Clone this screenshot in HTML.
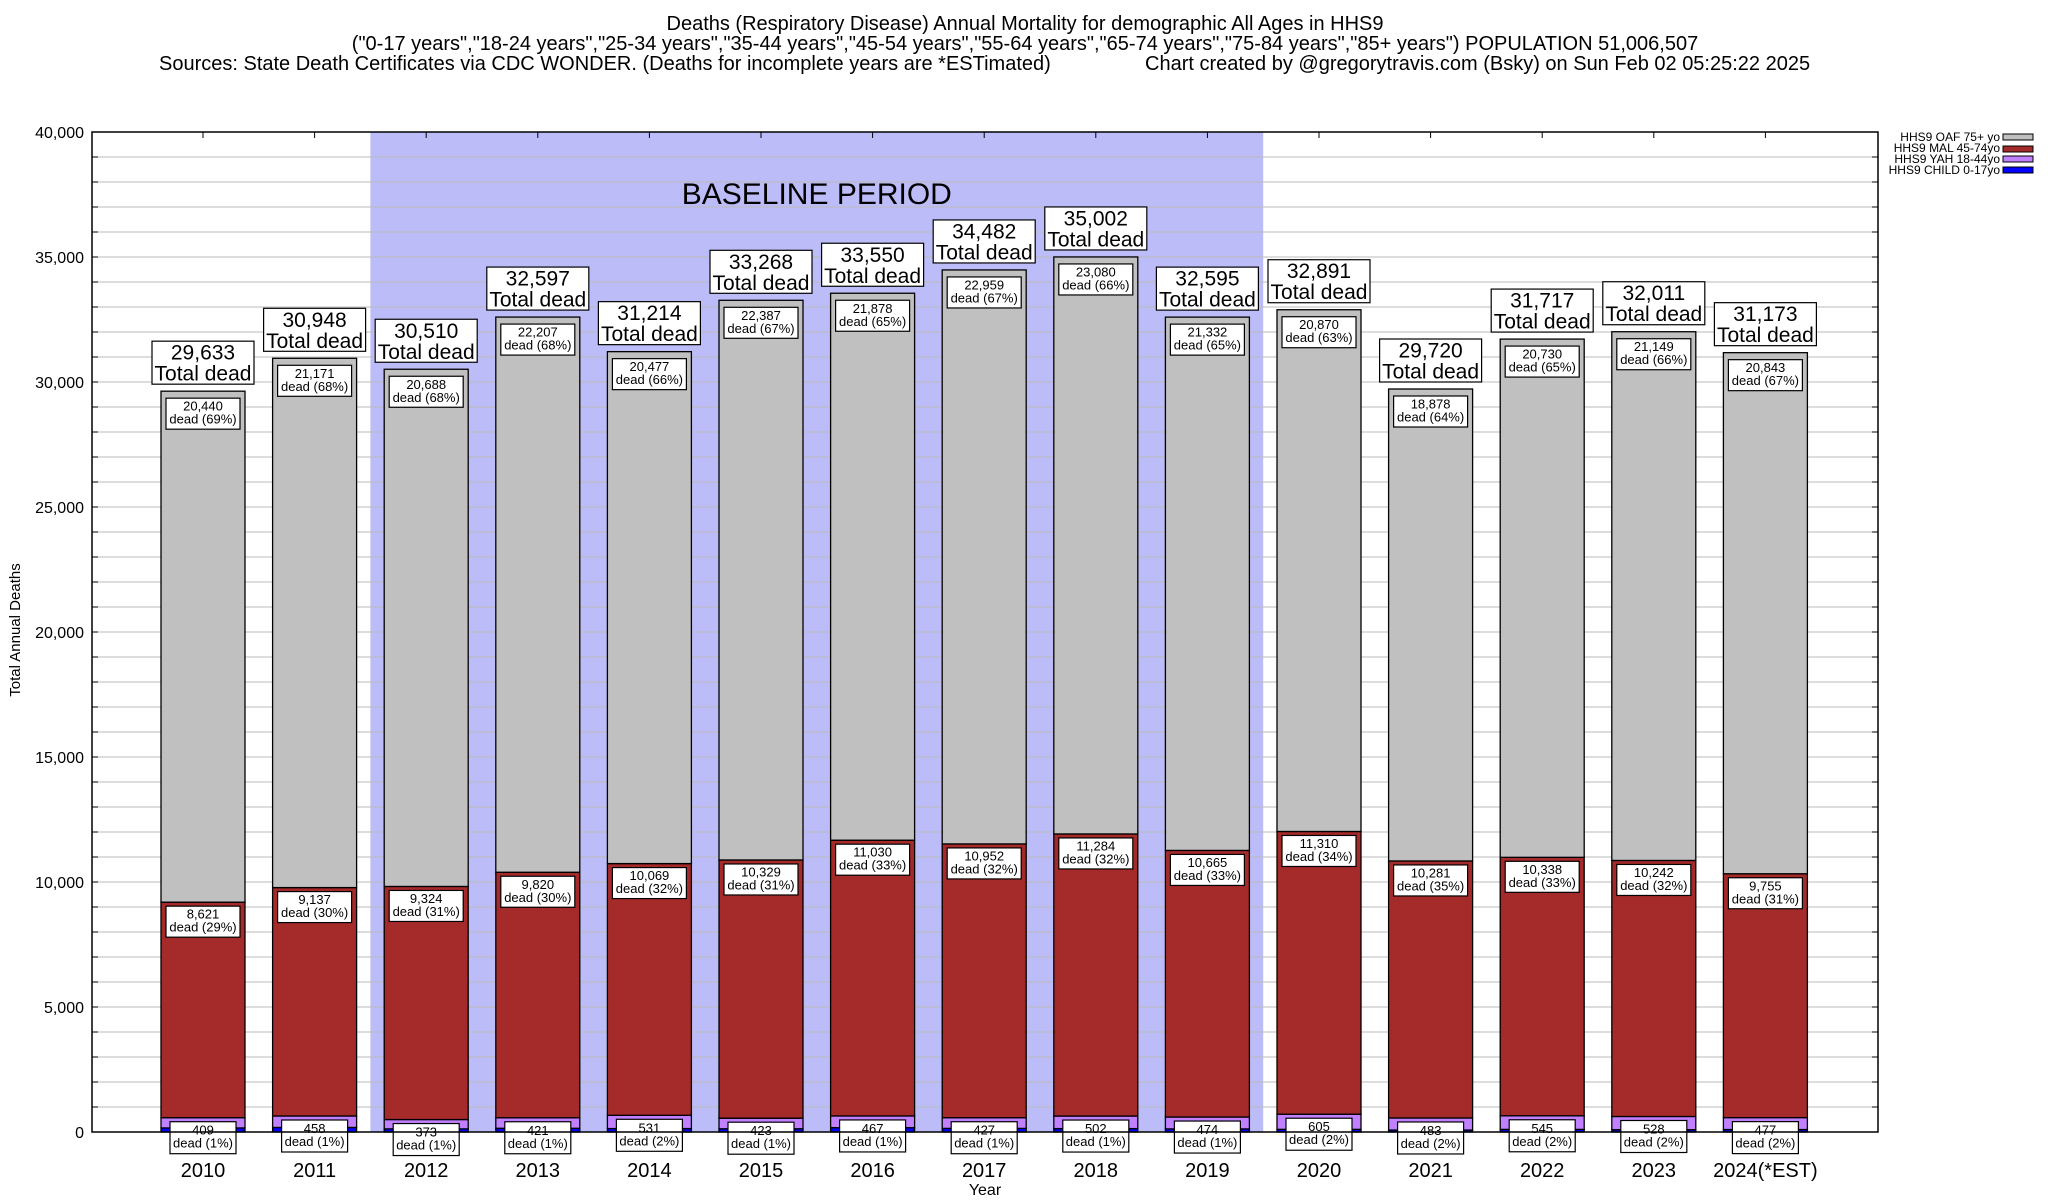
<!DOCTYPE html>
<html><head><meta charset="utf-8">
<style>
body{margin:0;background:#fff;}
svg{display:block;font-family:"Liberation Sans",sans-serif;}
</style></head>
<body>
<svg id="chart" width="2048" height="1200" viewBox="0 0 2048 1200" xmlns="http://www.w3.org/2000/svg">
<text x="1025" y="30" font-size="20" text-anchor="middle">Deaths (Respiratory Disease) Annual Mortality for demographic All Ages in HHS9</text>
<text x="1025" y="50" font-size="20" text-anchor="middle">("0-17 years","18-24 years","25-34 years","35-44 years","45-54 years","55-64 years","65-74 years","75-84 years","85+ years") POPULATION 51,006,507</text>
<text x="159" y="70" font-size="20">Sources: State Death Certificates via CDC WONDER. (Deaths for incomplete years are *ESTimated)</text>
<text x="1145" y="70" font-size="20">Chart created by @gregorytravis.com (Bsky) on Sun Feb 02 05:25:22 2025</text>
<g id="plot"></g>
<text transform="translate(20,630) rotate(-90)" font-size="15" text-anchor="middle">Total Annual Deaths</text>
<text x="985" y="1195" font-size="16" text-anchor="middle">Year</text>
<g font-size="12" text-anchor="end">
<text x="2000" y="141">HHS9 OAF 75+ yo</text>
<rect x="2003" y="134" width="30" height="6" fill="#c0c0c0" stroke="#000"/>
<text x="2000" y="152">HHS9 MAL 45-74yo</text>
<rect x="2003" y="146" width="30" height="6" fill="#a52a2a" stroke="#000"/>
<text x="2000" y="163">HHS9 YAH 18-44yo</text>
<rect x="2003" y="156" width="30" height="6" fill="#c080ff" stroke="#000"/>
<text x="2000" y="174">HHS9 CHILD 0-17yo</text>
<rect x="2003" y="167" width="30" height="6" fill="#0000ff" stroke="#000"/>
</g>
</svg>
<script>
const years = ["2010","2011","2012","2013","2014","2015","2016","2017","2018","2019","2020","2021","2022","2023","2024(*EST)"];
const totals = [29633,30948,30510,32597,31214,33268,33550,34482,35002,32595,32891,29720,31717,32011,31173];
const oaf = [20440,21171,20688,22207,20477,22387,21878,22959,23080,21332,20870,18878,20730,21149,20843];
const mal = [8621,9137,9324,9820,10069,10329,11030,10952,11284,10665,11310,10281,10338,10242,9755];
const yah = [409,458,373,421,531,423,467,427,502,474,605,483,545,528,477];
const oafPct = [69,68,68,68,66,67,65,67,66,65,63,64,65,66,67];
const malPct = [29,30,31,30,32,31,33,32,32,33,34,35,33,32,31];
const yahPct = [1,1,1,1,2,1,1,1,1,1,2,2,2,2,2];
const yTicks = [0,5000,10000,15000,20000,25000,30000,35000,40000];
const baselineStart = 2, baselineEnd = 9;

const NS="http://www.w3.org/2000/svg";
const L=92,T=132,R=1878,B=1132,yMax=40000;
const STEP=111.6;
const y=v=>B-(v/yMax)*(B-T);
const x=i=>203+i*STEP;
const BW=84;
const g=document.getElementById('plot');
function mk(tag,attrs,parent){const e=document.createElementNS(NS,tag);for(const k in attrs)e.setAttribute(k,attrs[k]);(parent||g).appendChild(e);return e;}
const fmt=v=>v.toLocaleString('en-US');

const bs=mk('rect',{x:x(baselineStart)-STEP/2,y:T,width:(baselineEnd-baselineStart+1)*STEP,height:B-T,fill:'#bcbcf8'});


const bt=mk('text',{x:(x(baselineStart)+x(baselineEnd))/2,y:204,'font-size':30,'text-anchor':'middle'});
bt.textContent='BASELINE PERIOD';



for(let v=1000;v<yMax;v+=1000){
  const gl=mk('line',{x1:L,x2:R,y1:y(v),y2:y(v),stroke:'#bbb','stroke-width':1});
  
  
  mk('line',{x1:L,x2:L+6,y1:y(v),y2:y(v),stroke:'#000'});
  mk('line',{x1:R-6,x2:R,y1:y(v),y2:y(v),stroke:'#000'});
}
yTicks.forEach(v=>{
  const t=mk('text',{x:L-8,y:y(v)+6,'font-size':16,'text-anchor':'end'});
  t.textContent=fmt(v);
  
  
});

function box(cx,top,w,h,lines,fs,name){
  const r=mk('rect',{x:cx-w/2,y:top,width:w,height:h,fill:'#fff',stroke:'#000','stroke-width':1.2});
  
  
  lines.forEach((s,k)=>{
    const t=mk('text',{x:cx,y:top+fs*(k+1)+(h-lines.length*fs)/2-3,'font-size':fs,'text-anchor':'middle'});
    t.textContent=s;
    
    
  });
}

years.forEach((yr,i)=>{
  const cx=x(i);
  const child=totals[i]-oaf[i]-mal[i]-yah[i];
  const segs=[[0,child,'#0000ff','bar-child-'],[child,child+yah[i],'#c080ff','bar-yah-'],[child+yah[i],child+yah[i]+mal[i],'#a52a2a','bar-mal-'],[child+yah[i]+mal[i],totals[i],'#c0c0c0','bar-oaf-']];
  segs.forEach(s=>{
    const r=mk('rect',{x:cx-BW/2,y:y(s[1]),width:BW,height:y(s[0])-y(s[1]),fill:s[2],stroke:'#000','stroke-width':1.3});
    
    
  });
  mk('line',{x1:cx,x2:cx,y1:T,y2:T+6,stroke:'#000'});
  box(cx,y(totals[i])-50,102,43,[fmt(totals[i]),'Total dead'],21,'total-label-'+yr);
  box(cx,y(totals[i])+7,74,31,[fmt(oaf[i]),'dead ('+oafPct[i]+'%)'],13,'oaf-label-'+yr);
  box(cx,y(child+yah[i]+mal[i])+4,74,31,[fmt(mal[i]),'dead ('+malPct[i]+'%)'],13,'mal-label-'+yr);
  box(cx,y(child+yah[i])+4,66,32,[fmt(yah[i]),'dead ('+yahPct[i]+'%)'],13,'yah-label-'+yr);
  const t=mk('text',{x:cx,y:1177,'font-size':20,'text-anchor':'middle'});
  t.textContent=yr;
  
  
});
const fr=mk('rect',{x:L,y:T,width:R-L,height:B-T,fill:'none',stroke:'#000','stroke-width':1.5});


</script>
</body></html>
